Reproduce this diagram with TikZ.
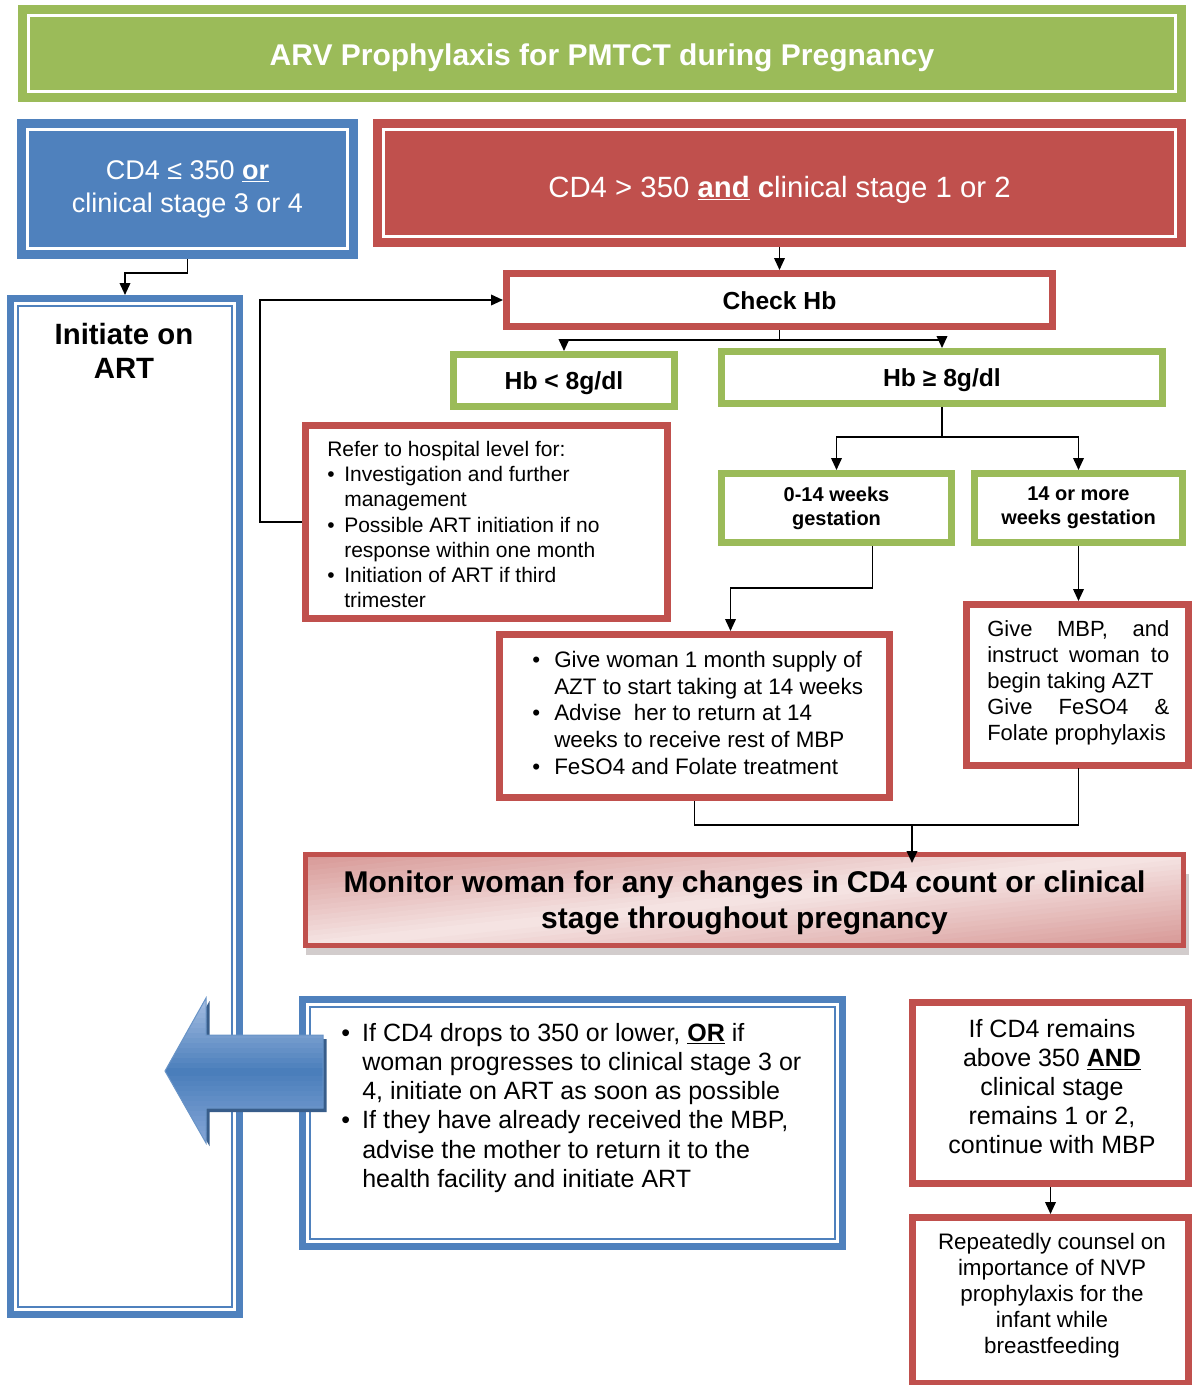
\documentclass[tikz,border=0pt]{standalone}
\usepackage{fontspec}
\setmainfont{Liberation Sans}
\usetikzlibrary{fit,calc,arrows.meta}
\definecolor{grn}{HTML}{9BBB59}
\definecolor{rd}{HTML}{C0504D}
\definecolor{bl}{HTML}{4F81BD}
\definecolor{pinklt}{HTML}{F5E3E2}
\definecolor{pinkdk}{HTML}{D38E8C}
\definecolor{arlt}{HTML}{A3BCE1}
\definecolor{armid}{HTML}{4A7EBB}
\definecolor{arbot}{HTML}{86A6D6}
\definecolor{ardk}{HTML}{385D8A}
\definecolor{shd}{HTML}{D2CCCC}
\newcommand\fs[2]{\fontsize{#1pt}{#2pt}\selectfont}
\newcommand\bul[1]{\makebox[#1][l]{\textbullet}}
\newcommand\ind[1]{\hspace*{#1}}
\begin{document}
\begin{tikzpicture}[x=0.75pt,y=-0.75pt,
  every node/.style={inner sep=0pt},
  dblbox/.style={draw=#1, fill=#1, line width=6.75pt, double=white, double distance=2.25pt, outer sep=7.875pt},
  sbox/.style={draw=#1, fill=white, line width=5.25pt},
  frm/.style={draw=bl, fill=white, line width=5.25pt},
  inframe/.style={draw=bl, line width=1.5pt},
  wtxt/.style={text=white, align=center},
  ctxt/.style={align=center},
  arr/.style={-{Triangle[length=9pt,width=8pt]}, line width=1.2pt},
  conn/.style={line width=1.2pt}]
\useasboundingbox (0,0) rectangle (1192,1385);
\fill[white] (0,0) rectangle (1192,1385);

% title
\node[dblbox=grn, fit={(28.5,15.5)(1175.5,91.5)}] (title) {};
\node[wtxt, font=\bfseries\fs{22.5}{27}] (titletxt) at ($(title.center)+(0,4)$) {ARV Prophylaxis for PMTCT during Pregnancy};

% top condition boxes
\node[dblbox=bl, fit={(27.5,129.5)(347.5,248.5)}] (cdlow) {};
\node[wtxt, font=\fs{20.25}{24.75}] (cdlowtxt) at ($(cdlow.center)+(0,0)$) {CD4 ≤ 350 \underline{\textbf{or}}\\clinical stage 3 or 4};
\node[dblbox=rd, fit={(383.5,129.5)(1175.5,236.5)}] (cdhigh) {};
\node[wtxt, font=\fs{22}{26}] (cdhightxt) at ($(cdhigh.center)+(0,7)$) {CD4 > 350 \underline{\textbf{and}} \textbf{c}linical stage 1 or 2};

% initiate on ART
\node[frm, fit={(10.5,298.5)(239.5,1314.5)}] (art) {};
\draw[inframe] ($(art.north west)+(11,11)$) rectangle ($(art.south east)+(-11,-11)$);
\node[ctxt, font=\bfseries\fs{22}{25.5}] (arttxt) at (124,351) {Initiate on\\ART};

% check Hb
\node[sbox=rd, fit={(506.5,273.5)(1052.5,326.5)}] (chk) {};
\node[font=\bfseries\fs{18.5}{22}] (chktxt) at ($(chk.center)+(0,1)$) {Check Hb};
\node[sbox=grn, fit={(453.5,354.5)(674.5,406.5)}] (hblow) {};
\node[font=\bfseries\fs{18.5}{22}] (hblowtxt) at ($(hblow.center)+(0,3)$) {Hb < 8g/dl};
\node[sbox=grn, fit={(721.5,351.5)(1162.5,403.5)}] (hbhi) {};
\node[font=\bfseries\fs{18.5}{22}] (hbhitxt) at ($(hbhi.center)+(0,3)$) {Hb ≥ 8g/dl};

% refer box
\node[sbox=rd, fit={(305.5,425.5)(667.5,618.5)}] (refer) {};
\node[anchor=north west, align=left, font=\fs{15.75}{18.9}] (refertxt) at (327,441) {Refer to hospital level for:\\
\bul{12.75pt}Investigation and further\\
\ind{12.75pt}management\\
\bul{12.75pt}Possible ART initiation if no\\
\ind{12.75pt}response within one month\\
\bul{12.75pt}Initiation of ART if third\\
\ind{12.75pt}trimester};

% gestation boxes
\node[sbox=grn, fit={(721.5,473.5)(951.5,542.5)}] (wk014) {};
\node[ctxt, font=\bfseries\fs{15}{18}] (wk014txt) at ($(wk014.center)+(0,0)$) {0-14 weeks\\gestation};
\node[sbox=grn, fit={(974.5,473.5)(1182.5,542.5)}] (wk14) {};
\node[ctxt, font=\bfseries\fs{15}{18}] (wk14txt) at ($(wk14.center)+(0,0)$) {14 or more\\weeks gestation};

% give boxes
\node[sbox=rd, fit={(499.5,634.5)(889.5,797.5)}] (giveA) {};
\node[anchor=north west, align=left, font=\fs{16.8}{20}] (giveAtxt) at (532,651) {\bul{16.5pt}Give woman 1 month supply of\\
\ind{16.5pt}AZT to start taking at 14 weeks\\
\bul{16.5pt}Advise\ \ her to return at 14\\
\ind{16.5pt}weeks to receive rest of MBP\\
\bul{16.5pt}FeSO4 and Folate treatment};

\node[sbox=rd, fit={(966.5,604.5)(1188.5,765.5)}] (giveB) {};
\node[anchor=north west, align=left, font=\fs{16.5}{19.5}] (giveBtxt) at (987,620) {\makebox[136.5pt][s]{Give MBP, and}\\
\makebox[136.5pt][s]{instruct woman to}\\
begin taking AZT\\
\makebox[136.5pt][s]{Give FeSO4 \&}\\
Folate prophylaxis};

% monitor (shadow, diagonal gradient fill, frame)
\fill[shd] (306,948) rectangle (1189,955);
\fill[shd] (1184,874) rectangle (1189,955);
\begin{scope}
  \clip (305.5,854.5) rectangle (1183.5,945.5);
  \foreach \i in {0,...,20} {
    \pgfmathtruncatemacro\p{100*\i/20}
    \fill[pinklt!\p!pinkdk, rotate around={6:(744.5,900)}] (200,{795+\i*5}) rectangle (1290,{801+\i*5});
  }
  \foreach \i in {0,...,20} {
    \pgfmathtruncatemacro\p{100*(20-\i)/20}
    \fill[pinklt!\p!pinkdk, rotate around={6:(744.5,900)}] (200,{900+\i*5}) rectangle (1290,{906+\i*5});
  }
\end{scope}
\node[draw=rd, line width=3.75pt, fit={(305.5,854.5)(1183.5,945.5)}] (mon) {};
\node[ctxt, font=\bfseries\fs{22.5}{27}] (montxt) at ($(mon.center)+(0,3)$) {Monitor woman for any changes in CD4 count or clinical\\stage throughout pregnancy};

% drop box
\node[frm, fit={(302.5,999.5)(842.5,1246.5)}] (drop) {};
\draw[inframe] ($(drop.north west)+(11,11)$) rectangle ($(drop.south east)+(-11,-11)$);
\node[anchor=north west, align=left, font=\fs{18.75}{21.9}] (droptxt) at (341,1023) {\bul{15.75pt}If CD4 drops to 350 or lower, \underline{\textbf{OR}} if\\
\ind{15.75pt}woman progresses to clinical stage 3 or\\
\ind{15.75pt}4, initiate on ART as soon as possible\\
\bul{15.75pt}If they have already received the MBP,\\
\ind{15.75pt}advise the mother to return it to the\\
\ind{15.75pt}health facility and initiate ART};

% remain / counsel
\node[sbox=rd, fit={(912.5,1002.5)(1188.5,1183.5)}] (remain) {};
\node[ctxt, font=\fs{18.75}{21.75}] (remaintxt) at (1052,1087) {If CD4 remains\\above 350 \underline{\textbf{AND}}\\clinical stage\\remains 1 or 2,\\continue with MBP};
\node[sbox=rd, fit={(912.5,1217.5)(1188.5,1383.5)}] (counsel) {};
\node[ctxt, font=\fs{16.8}{19.5}] (counseltxt) at (1052,1296) {Repeatedly counsel on\\importance of NVP\\prophylaxis for the\\infant while\\breastfeeding};

% connectors
\draw[arr] (cdhigh.south) -- (chk.north);
\draw[arr] (cdlow.south) -- ++(0,14) -| (art.north);
\draw[arr] (chk.south) -- ++(0,10) -| (hblow.north);
\draw[arr] (chk.south) -- ++(0,10) -| (hbhi.north);
\draw[arr] (refer.west) -- ++(-42,0) |- (chk.west);
\draw[arr] (hbhi.south) -- ++(0,30) -| (wk014.north);
\draw[arr] (hbhi.south) -- ++(0,30) -| (wk14.north);
\draw[arr] ([xshift=27pt]wk014.south) -- ++(0,42) -| ([xshift=27pt]giveA.north);
\draw[arr] (wk14.south) -- (wk14.south |- giveB.north);
\draw[conn] (giveA.south) -- ++(0,24) -| (giveB.south -| wk14.south);
\draw[conn] (giveB.south -| wk14.south) -- (giveB.south);
\coordinate (mrg) at (912,825);
\draw[arr] (mrg) -- ($(mrg |- mon.north)+(0,11)$);
\draw[arr] (remain.south) -- (counsel.north);

% big arrow: shadow, gradient fill, outline
\fill[ardk] (168.5,1075) -- (209.5,1001) -- (209.5,1039) -- (326.5,1039) -- (326.5,1112) -- (209.5,1112) -- (209.5,1146) -- cycle;
\begin{scope}
  \clip (165,1071) -- (206,998) -- (206,1035) -- (323,1035) -- (323,1108) -- (206,1108) -- (206,1143) -- cycle;
  \foreach \i in {0,...,14} {
    \pgfmathtruncatemacro\p{100*\i/14}
    \fill[armid!\p!arlt] (160,{998+\i*5}) rectangle (330,{1004+\i*5});
  }
  \foreach \i in {0,...,14} {
    \pgfmathtruncatemacro\p{100*(14-\i)/14}
    \fill[armid!\p!arbot] (160,{1071+\i*5}) rectangle (330,{1077+\i*5});
  }
\end{scope}
\draw[bl!85!white, line width=0.75pt] (165,1071) -- (206,998) -- (206,1035) -- (323,1035) -- (323,1108) -- (206,1108) -- (206,1143) -- cycle;
\end{tikzpicture}
\end{document}
